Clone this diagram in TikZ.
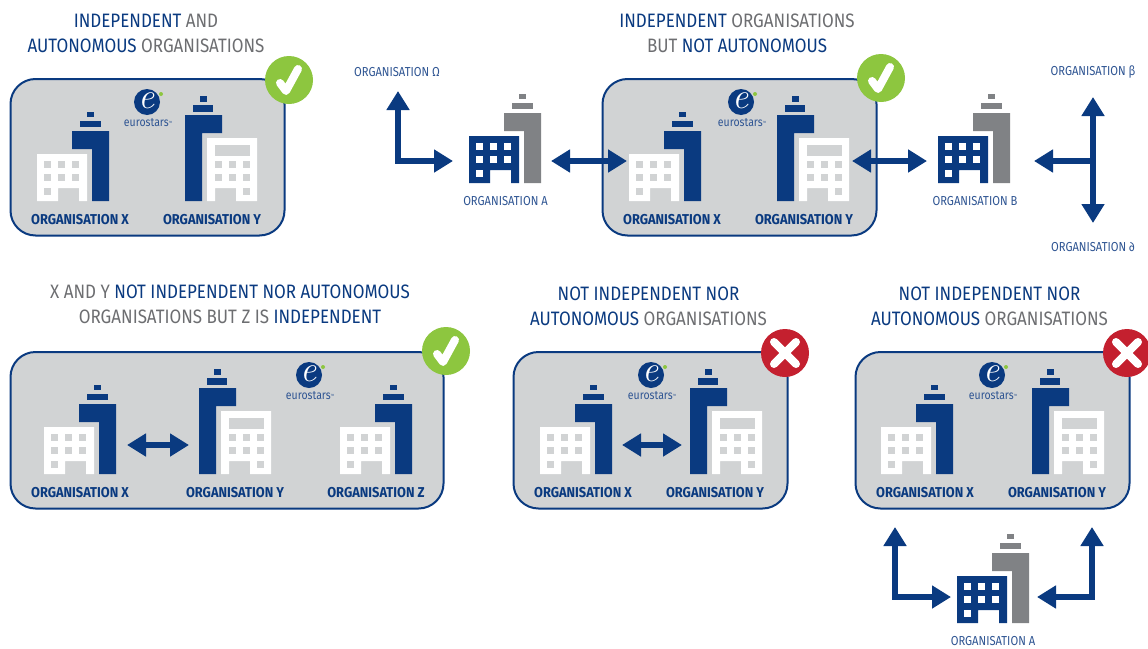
\documentclass[tikz,border=0pt]{standalone}
\usepackage{fontspec}
\usetikzlibrary{arrows.meta}
\setmainfont{Fira Sans}
\newfontfamily\ftitle[FakeStretch=0.875]{Fira Sans}
\newfontfamily\fbold[FakeStretch=0.9]{Fira Sans}[BoldFont={Fira Sans Bold}]
\newfontfamily\flabel[FakeStretch=0.86]{Fira Sans}
\newfontfamily\flogo{Latin Modern Roman}
\definecolor{navy}{HTML}{0A3A80}
\definecolor{navyl}{HTML}{2F5593}
\definecolor{panelgrey}{HTML}{D1D3D4}
\definecolor{towergrey}{HTML}{808285}
\definecolor{greytext}{HTML}{6D6E71}
\definecolor{okgreen}{HTML}{8DC63F}
\definecolor{nored}{HTML}{C4202F}
\tikzset{
  panel/.style={draw=navy,fill=panelgrey,line width=2pt,rounded corners=25pt},
  flow/.style={draw=navy,line width=6pt,-{Triangle[length=19pt,width=22pt]}},
  dflow/.style={draw=navy,line width=6pt,{Triangle[length=19pt,width=22pt]}-{Triangle[length=19pt,width=22pt]}},
  ttl/.style={font=\ftitle\fontsize{19.4}{25}\selectfont,text=greytext,align=center,inner sep=0pt},
  olabel/.style={font=\fbold\bfseries\fontsize{14.3}{15}\selectfont,text=navy,inner sep=0pt},
  orglabel/.style={font=\flabel\fontsize{13}{15}\selectfont,text=navyl,inner sep=0pt},
}
\newcommand{\bl}[1]{\textcolor{navy}{#1}}
% low building + tower: #1,#2 origin, #3 building, #4 windows, #5 tower
\newcommand{\bldgX}[5]{\begin{scope}[shift={(#1,#2)}]
 \fill[#5] (35,-70)--(72,-70)--(72,0)--(55,0)--(55,-52)--(35,-52)--cycle;
 \fill[#5] (43,-80) rectangle (64,-74);
 \fill[#5] (50,-89) rectangle (57,-84);
 \fill[#3] (0,-47)--(50,-47)--(50,0)--(42,0)--(42,-13)--(21,-13)--(21,0)--(0,0)--cycle;
 \foreach \a in {7,21,35}{\foreach \b in {-40,-27}{\fill[#4] (\a,\b) rectangle (\a+7,\b+7);}}
 \fill[#4] (7,-13) rectangle (14,-6);
\end{scope}}
\newcommand{\bldgY}[3]{\begin{scope}[shift={(#1,#2)}]
 \fill[navy] (0,-86)--(37,-86)--(37,-68)--(17,-68)--(17,0)--(0,0)--cycle;
 \fill[navy] (8,-96) rectangle (28,-89);
 \fill[navy] (15,-105) rectangle (22,-99);
 \fill[white] (22,-63)--(72,-63)--(72,0)--(51,0)--(51,-13)--(30,-13)--(30,0)--(22,0)--cycle;
 \fill[panelgrey] (30,-56) rectangle (65,-45);
 \foreach \a in {30,44,58}{\foreach \b in {-40,-27}{\fill[panelgrey] (\a,\b) rectangle (\a+7,\b+7);}}
 \fill[panelgrey] (58,-13) rectangle (65,-6);
\end{scope}}
\newcommand{\logo}[3]{\begin{scope}[shift={(#1,#2)}]
 \fill[navy] (0,0) circle (13);
 \node[inner sep=0pt,text=white,font=\flogo\itshape\fontsize{36}{36}\selectfont] (#3e) at (0,-1) {e};
 \fill[okgreen] (14,-8) circle (2);
 \node[inner sep=0pt,text=navyl,font=\flabel\fontsize{12.2}{14}\selectfont] (#3t) at (1,21) {eurostars\raisebox{3pt}{\fontsize{3}{3}\selectfont TM}};
\end{scope}}
\newcommand{\okmark}[3]{\fill[okgreen] (#1,#2) circle (24);
 \draw[white,line width=8pt,line cap=round,line join=round] (#1-9,#2+3)--(#1-3,#2+11)--(#1+9,#2-11);}
\newcommand{\nomark}[3]{\fill[nored] (#1,#2) circle (24);
 \draw[white,line width=8pt,line cap=round] (#1-11,#2-11)--(#1+11,#2+11) (#1-11,#2+11)--(#1+11,#2-11);}
\begin{document}
\begin{tikzpicture}[x=1pt,y=-1pt]
\useasboundingbox (0,0) rectangle (1148,648);
\fill[white] (0,0) rectangle (1148,648);
% panels
\draw[panel] (10.5,79) rectangle (284.5,235.5);
\draw[panel] (602.5,79) rectangle (876.5,235.5);
\draw[panel] (10.5,352) rectangle (443.5,508.5);
\draw[panel] (513.5,352) rectangle (787.5,508.5);
\draw[panel] (855.5,352) rectangle (1129.5,508.5);
% titles
\node[ttl] (t1a) at (146,20.5) {\bl{INDEPENDENT} AND};
\node[ttl] (t1b) at (146,45.5) {\bl{AUTONOMOUS} ORGANISATIONS};
\node[ttl] (t2a) at (737,20.5) {\bl{INDEPENDENT} ORGANISATIONS};
\node[ttl] (t2b) at (737,45.5) {BUT \bl{NOT AUTONOMOUS}};
\node[ttl] (t3a) at (230,291.5) {X AND Y \bl{NOT INDEPENDENT NOR AUTONOMOUS}};
\node[ttl] (t3b) at (230,316.5) {ORGANISATIONS BUT Z IS \bl{INDEPENDENT}};
\node[ttl] (t4a) at (648.5,293.5) {\bl{NOT INDEPENDENT NOR}};
\node[ttl] (t4b) at (648.5,318.5) {\bl{AUTONOMOUS} ORGANISATIONS};
\node[ttl] (t5a) at (989.5,293.5) {\bl{NOT INDEPENDENT NOR}};
\node[ttl] (t5b) at (989.5,318.5) {\bl{AUTONOMOUS} ORGANISATIONS};
% buildings
\bldgX{37}{201}{white}{panelgrey}{navy}
\bldgY{185}{201}{}
\bldgX{629}{201}{white}{panelgrey}{navy}
\bldgY{777}{201}{}
\bldgX{44}{474}{white}{panelgrey}{navy}
\bldgY{199}{474}{}
\bldgX{340}{474}{white}{panelgrey}{navy}
\bldgX{540}{474}{white}{panelgrey}{navy}
\bldgY{690}{474}{}
\bldgX{881}{474}{white}{panelgrey}{navy}
\bldgY{1032}{474}{}
\bldgX{469}{183}{navy}{white}{towergrey}
\bldgX{938}{183}{navy}{white}{towergrey}
\bldgX{957}{623}{navy}{white}{towergrey}
% logos
\logo{147}{102}{la}
\logo{741}{102}{lb}
\logo{309}{375}{lc}
\logo{651}{375}{ld}
\logo{992}{375}{le}
% marks
\okmark{289}{80}{}
\okmark{881}{78}{}
\okmark{446}{351}{}
\nomark{785}{353}{}
\nomark{1127}{353}{}
% labels
\node[olabel] (x1) at (80,219.5) {ORGANISATION X};
\node[olabel] (y1) at (212,219.5) {ORGANISATION Y};
\node[olabel] (x2) at (672,219.5) {ORGANISATION X};
\node[olabel] (y2) at (804,219.5) {ORGANISATION Y};
\node[olabel] (x3) at (80,492.5) {ORGANISATION X};
\node[olabel] (y3) at (235,492.5) {ORGANISATION Y};
\node[olabel] (z3) at (376,492.5) {ORGANISATION Z};
\node[olabel] (x4) at (583,492.5) {ORGANISATION X};
\node[olabel] (y4) at (715,492.5) {ORGANISATION Y};
\node[olabel] (x5) at (925,492.5) {ORGANISATION X};
\node[olabel] (y5) at (1057,492.5) {ORGANISATION Y};
\node[orglabel] (oo) at (397,72.5) {ORGANISATION Ω};
\node[orglabel] (oa) at (505.5,201.5) {ORGANISATION A};
\node[orglabel] (ob) at (975,201.5) {ORGANISATION B};
\node[orglabel] (obeta) at (1093,72.5) {ORGANISATION β};
\node[orglabel] (odelta) at (1093,247.5) {ORGANISATION ∂};
\node[orglabel] (oa2) at (993,641.5) {ORGANISATION A};
% connector ends
\coordinate (oN) at (398,91); \coordinate (oE) at (453,161);
\coordinate (axL) at (551,161); \coordinate (axR) at (627,161);
\coordinate (ybL) at (852,161); \coordinate (ybR) at (927,161);
\coordinate (bN) at (1093,97); \coordinate (bS) at (1093,223); \coordinate (bC) at (1093,161); \coordinate (bW) at (1034,161);
\coordinate (lN) at (895,527); \coordinate (lE) at (951,597);
\coordinate (rN) at (1092,527); \coordinate (rW) at (1037,597);
\coordinate (p3L) at (127,445); \coordinate (p3R) at (189,445);
\coordinate (p4L) at (622,445); \coordinate (p4R) at (682,445);
% connectors
\draw[dflow] (oN) |- (oE);
\draw[dflow] (axL) -- (axR);
\draw[dflow] (ybL) -- (ybR);
\draw[dflow] (bN) -- (bS);
\draw[flow] (bC) -- (bW);
\draw[dflow] (lN) |- (lE);
\draw[dflow] (rN) |- (rW);
\draw[dflow] (p3L) -- (p3R);
\draw[dflow] (p4L) -- (p4R);
\end{tikzpicture}
\end{document}
